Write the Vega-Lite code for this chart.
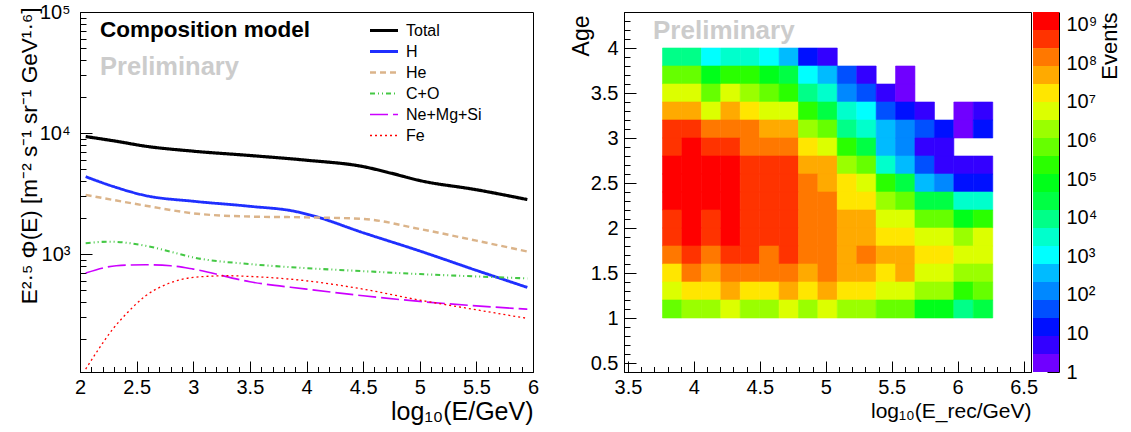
{
  "$schema": "https://vega.github.io/schema/vega-lite/v6.json",
  "padding": {"left": 17, "top": 1, "right": 0, "bottom": 0},
  "background": "white",
  "config": {
    "font": "Liberation Sans",
    "view": {"stroke": "black", "strokeWidth": 1},
    "axis": {"domainColor": "black", "tickColor": "black", "labelColor": "black", "titleColor": "black", "labelFontSize": 20, "titleFontSize": 25, "titleFontWeight": "normal", "grid": false, "labelFont": "Liberation Sans", "titleFont": "Liberation Sans", "labelOverlap": false, "labelFlush": false, "labelBound": false, "tickWidth": 1, "domainWidth": 1, "tickCount": 1000}
  },
  "datasets": {
    "lines": [
      {"s": "Total", "x": 2.05, "y": 9350}, {"s": "Total", "x": 2.32, "y": 8550}, {"s": "Total", "x": 2.58, "y": 7780}, {"s": "Total", "x": 3.0, "y": 7080}, {"s": "Total", "x": 3.5, "y": 6520}, {"s": "Total", "x": 4.0, "y": 5960}, {"s": "Total", "x": 4.5, "y": 5280}, {"s": "Total", "x": 4.75, "y": 4650}, {"s": "Total", "x": 5.0, "y": 4050}, {"s": "Total", "x": 5.5, "y": 3400}, {"s": "Total", "x": 5.95, "y": 2820},
      {"s": "H", "x": 2.05, "y": 4360}, {"s": "H", "x": 2.3, "y": 3600}, {"s": "H", "x": 2.58, "y": 3040}, {"s": "H", "x": 3.0, "y": 2730}, {"s": "H", "x": 3.5, "y": 2480}, {"s": "H", "x": 3.9, "y": 2250}, {"s": "H", "x": 4.05, "y": 2080}, {"s": "H", "x": 4.5, "y": 1500}, {"s": "H", "x": 5.0, "y": 1060}, {"s": "H", "x": 5.5, "y": 733}, {"s": "H", "x": 5.95, "y": 530},
      {"s": "He", "x": 2.05, "y": 3080}, {"s": "He", "x": 2.58, "y": 2510}, {"s": "He", "x": 3.0, "y": 2170}, {"s": "He", "x": 3.5, "y": 2040}, {"s": "He", "x": 4.0, "y": 2010}, {"s": "He", "x": 4.5, "y": 1950}, {"s": "He", "x": 5.0, "y": 1610}, {"s": "He", "x": 5.5, "y": 1290}, {"s": "He", "x": 5.95, "y": 1050},
      {"s": "C+O", "x": 2.05, "y": 1230}, {"s": "C+O", "x": 2.26, "y": 1265}, {"s": "C+O", "x": 2.58, "y": 1170}, {"s": "C+O", "x": 2.8, "y": 1045}, {"s": "C+O", "x": 3.0, "y": 938}, {"s": "C+O", "x": 3.5, "y": 826}, {"s": "C+O", "x": 4.0, "y": 765}, {"s": "C+O", "x": 4.5, "y": 722}, {"s": "C+O", "x": 5.0, "y": 683}, {"s": "C+O", "x": 5.5, "y": 653}, {"s": "C+O", "x": 5.95, "y": 629},
      {"s": "Ne+Mg+Si", "x": 2.05, "y": 697}, {"s": "Ne+Mg+Si", "x": 2.32, "y": 800}, {"s": "Ne+Mg+Si", "x": 2.58, "y": 816}, {"s": "Ne+Mg+Si", "x": 2.8, "y": 800}, {"s": "Ne+Mg+Si", "x": 3.0, "y": 751}, {"s": "Ne+Mg+Si", "x": 3.5, "y": 590}, {"s": "Ne+Mg+Si", "x": 4.0, "y": 513}, {"s": "Ne+Mg+Si", "x": 4.5, "y": 452}, {"s": "Ne+Mg+Si", "x": 5.0, "y": 406}, {"s": "Ne+Mg+Si", "x": 5.5, "y": 373}, {"s": "Ne+Mg+Si", "x": 5.95, "y": 350},
      {"s": "Fe", "x": 2.05, "y": 112}, {"s": "Fe", "x": 2.165, "y": 164}, {"s": "Fe", "x": 2.29, "y": 240}, {"s": "Fe", "x": 2.42, "y": 329}, {"s": "Fe", "x": 2.58, "y": 452}, {"s": "Fe", "x": 2.77, "y": 565}, {"s": "Fe", "x": 3.0, "y": 641}, {"s": "Fe", "x": 3.31, "y": 662}, {"s": "Fe", "x": 3.5, "y": 653}, {"s": "Fe", "x": 4.0, "y": 601}, {"s": "Fe", "x": 4.5, "y": 513}, {"s": "Fe", "x": 5.0, "y": 416}, {"s": "Fe", "x": 5.5, "y": 346}, {"s": "Fe", "x": 5.95, "y": 294}
    ],
    "cols": [
      {"c": 1, "x0": 3.762, "x1": 3.909}, {"c": 2, "x0": 3.909, "x1": 4.057}, {"c": 3, "x0": 4.057, "x1": 4.204}, {"c": 4, "x0": 4.204, "x1": 4.351}, {"c": 5, "x0": 4.351, "x1": 4.498}, {"c": 6, "x0": 4.498, "x1": 4.646}, {"c": 7, "x0": 4.646, "x1": 4.793}, {"c": 8, "x0": 4.793, "x1": 4.94}, {"c": 9, "x0": 4.94, "x1": 5.087}, {"c": 10, "x0": 5.087, "x1": 5.235}, {"c": 11, "x0": 5.235, "x1": 5.382}, {"c": 12, "x0": 5.382, "x1": 5.529}, {"c": 13, "x0": 5.529, "x1": 5.676}, {"c": 14, "x0": 5.676, "x1": 5.824}, {"c": 15, "x0": 5.824, "x1": 5.971}, {"c": 16, "x0": 5.971, "x1": 6.118}, {"c": 17, "x0": 6.118, "x1": 6.266}
    ],
    "ages": [
      {"a": 1.0, "a1": 1.2}, {"a": 1.2, "a1": 1.4}, {"a": 1.4, "a1": 1.6}, {"a": 1.6, "a1": 1.8}, {"a": 1.8, "a1": 2.0}, {"a": 2.0, "a1": 2.2}, {"a": 2.2, "a1": 2.4}, {"a": 2.4, "a1": 2.6}, {"a": 2.6, "a1": 2.8}, {"a": 2.8, "a1": 3.0}, {"a": 3.0, "a1": 3.2}, {"a": 3.2, "a1": 3.4}, {"a": 3.4, "a1": 3.6}, {"a": 3.6, "a1": 3.8}, {"a": 3.8, "a1": 4.0}
    ],
    "cells": [
      {"c": 1, "a": 3.8, "n": 9230}, {"c": 2, "a": 3.8, "n": 9230}, {"c": 3, "a": 3.8, "n": 1077}, {"c": 4, "a": 3.8, "n": 3155}, {"c": 5, "a": 3.8, "n": 3155}, {"c": 6, "a": 3.8, "n": 1077}, {"c": 7, "a": 3.8, "n": 368}, {"c": 8, "a": 3.8, "n": 15}, {"c": 9, "a": 3.8, "n": 5},
      {"c": 1, "a": 3.6, "n": 678000}, {"c": 2, "a": 3.6, "n": 678000}, {"c": 3, "a": 3.6, "n": 79100}, {"c": 4, "a": 3.6, "n": 231700}, {"c": 5, "a": 3.6, "n": 231700}, {"c": 6, "a": 3.6, "n": 79100}, {"c": 7, "a": 3.6, "n": 27000}, {"c": 8, "a": 3.6, "n": 1077}, {"c": 9, "a": 3.6, "n": 368}, {"c": 10, "a": 3.6, "n": 43}, {"c": 11, "a": 3.6, "n": 5}, {"c": 13, "a": 3.6, "n": 1.7},
      {"c": 1, "a": 3.4, "n": 5810000}, {"c": 2, "a": 3.4, "n": 5810000}, {"c": 3, "a": 3.4, "n": 678000}, {"c": 4, "a": 3.4, "n": 5810000}, {"c": 5, "a": 3.4, "n": 1990000}, {"c": 6, "a": 3.4, "n": 678000}, {"c": 7, "a": 3.4, "n": 231700}, {"c": 8, "a": 3.4, "n": 9230}, {"c": 9, "a": 3.4, "n": 3155}, {"c": 10, "a": 3.4, "n": 126}, {"c": 11, "a": 3.4, "n": 43}, {"c": 12, "a": 3.4, "n": 5}, {"c": 13, "a": 3.4, "n": 1.7},
      {"c": 1, "a": 3.2, "n": 49800000}, {"c": 2, "a": 3.2, "n": 49800000}, {"c": 3, "a": 3.2, "n": 5810000}, {"c": 4, "a": 3.2, "n": 49800000}, {"c": 5, "a": 3.2, "n": 17000000}, {"c": 6, "a": 3.2, "n": 5810000}, {"c": 7, "a": 3.2, "n": 5810000}, {"c": 8, "a": 3.2, "n": 231700}, {"c": 9, "a": 3.2, "n": 27000}, {"c": 10, "a": 3.2, "n": 3155}, {"c": 11, "a": 3.2, "n": 1077}, {"c": 12, "a": 3.2, "n": 43}, {"c": 13, "a": 3.2, "n": 15}, {"c": 14, "a": 3.2, "n": 5}, {"c": 16, "a": 3.2, "n": 1.7}, {"c": 17, "a": 3.2, "n": 5},
      {"c": 1, "a": 3.0, "n": 427000000}, {"c": 2, "a": 3.0, "n": 427000000}, {"c": 3, "a": 3.0, "n": 146000000}, {"c": 4, "a": 3.0, "n": 146000000}, {"c": 5, "a": 3.0, "n": 146000000}, {"c": 6, "a": 3.0, "n": 49800000}, {"c": 7, "a": 3.0, "n": 49800000}, {"c": 8, "a": 3.0, "n": 1990000}, {"c": 9, "a": 3.0, "n": 678000}, {"c": 10, "a": 3.0, "n": 9230}, {"c": 11, "a": 3.0, "n": 3155}, {"c": 12, "a": 3.0, "n": 368}, {"c": 13, "a": 3.0, "n": 126}, {"c": 14, "a": 3.0, "n": 43}, {"c": 15, "a": 3.0, "n": 15}, {"c": 16, "a": 3.0, "n": 1.7}, {"c": 17, "a": 3.0, "n": 15},
      {"c": 1, "a": 2.8, "n": 427000000}, {"c": 2, "a": 2.8, "n": 1250000000}, {"c": 3, "a": 2.8, "n": 427000000}, {"c": 4, "a": 2.8, "n": 427000000}, {"c": 5, "a": 2.8, "n": 146000000}, {"c": 6, "a": 2.8, "n": 146000000}, {"c": 7, "a": 2.8, "n": 146000000}, {"c": 8, "a": 2.8, "n": 17000000}, {"c": 9, "a": 2.8, "n": 5810000}, {"c": 10, "a": 2.8, "n": 231700}, {"c": 11, "a": 2.8, "n": 27000}, {"c": 12, "a": 2.8, "n": 368}, {"c": 13, "a": 2.8, "n": 126}, {"c": 14, "a": 2.8, "n": 5}, {"c": 15, "a": 2.8, "n": 5},
      {"c": 1, "a": 2.6, "n": 1250000000}, {"c": 2, "a": 2.6, "n": 1250000000}, {"c": 3, "a": 2.6, "n": 1250000000}, {"c": 4, "a": 2.6, "n": 1250000000}, {"c": 5, "a": 2.6, "n": 427000000}, {"c": 6, "a": 2.6, "n": 427000000}, {"c": 7, "a": 2.6, "n": 427000000}, {"c": 8, "a": 2.6, "n": 49800000}, {"c": 9, "a": 2.6, "n": 49800000}, {"c": 10, "a": 2.6, "n": 1990000}, {"c": 11, "a": 2.6, "n": 678000}, {"c": 12, "a": 2.6, "n": 3155}, {"c": 13, "a": 2.6, "n": 368}, {"c": 14, "a": 2.6, "n": 43}, {"c": 15, "a": 2.6, "n": 5}, {"c": 16, "a": 2.6, "n": 5}, {"c": 17, "a": 2.6, "n": 5},
      {"c": 1, "a": 2.4, "n": 1250000000}, {"c": 2, "a": 2.4, "n": 1250000000}, {"c": 3, "a": 2.4, "n": 1250000000}, {"c": 4, "a": 2.4, "n": 1250000000}, {"c": 5, "a": 2.4, "n": 427000000}, {"c": 6, "a": 2.4, "n": 427000000}, {"c": 7, "a": 2.4, "n": 427000000}, {"c": 8, "a": 2.4, "n": 146000000}, {"c": 9, "a": 2.4, "n": 49800000}, {"c": 10, "a": 2.4, "n": 17000000}, {"c": 11, "a": 2.4, "n": 5810000}, {"c": 12, "a": 2.4, "n": 231700}, {"c": 13, "a": 2.4, "n": 27000}, {"c": 14, "a": 2.4, "n": 368}, {"c": 15, "a": 2.4, "n": 126}, {"c": 16, "a": 2.4, "n": 15}, {"c": 17, "a": 2.4, "n": 15},
      {"c": 1, "a": 2.2, "n": 1250000000}, {"c": 2, "a": 2.2, "n": 1250000000}, {"c": 3, "a": 2.2, "n": 1250000000}, {"c": 4, "a": 2.2, "n": 1250000000}, {"c": 5, "a": 2.2, "n": 427000000}, {"c": 6, "a": 2.2, "n": 427000000}, {"c": 7, "a": 2.2, "n": 427000000}, {"c": 8, "a": 2.2, "n": 146000000}, {"c": 9, "a": 2.2, "n": 146000000}, {"c": 10, "a": 2.2, "n": 17000000}, {"c": 11, "a": 2.2, "n": 17000000}, {"c": 12, "a": 2.2, "n": 1990000}, {"c": 13, "a": 2.2, "n": 678000}, {"c": 14, "a": 2.2, "n": 27000}, {"c": 15, "a": 2.2, "n": 27000}, {"c": 16, "a": 2.2, "n": 3155}, {"c": 17, "a": 2.2, "n": 3155},
      {"c": 1, "a": 2.0, "n": 427000000}, {"c": 2, "a": 2.0, "n": 1250000000}, {"c": 3, "a": 2.0, "n": 427000000}, {"c": 4, "a": 2.0, "n": 1250000000}, {"c": 5, "a": 2.0, "n": 427000000}, {"c": 6, "a": 2.0, "n": 427000000}, {"c": 7, "a": 2.0, "n": 427000000}, {"c": 8, "a": 2.0, "n": 146000000}, {"c": 9, "a": 2.0, "n": 146000000}, {"c": 10, "a": 2.0, "n": 49800000}, {"c": 11, "a": 2.0, "n": 49800000}, {"c": 12, "a": 2.0, "n": 5810000}, {"c": 13, "a": 2.0, "n": 5810000}, {"c": 14, "a": 2.0, "n": 678000}, {"c": 15, "a": 2.0, "n": 678000}, {"c": 16, "a": 2.0, "n": 79100}, {"c": 17, "a": 2.0, "n": 231700},
      {"c": 1, "a": 1.8, "n": 427000000}, {"c": 2, "a": 1.8, "n": 1250000000}, {"c": 3, "a": 1.8, "n": 427000000}, {"c": 4, "a": 1.8, "n": 1250000000}, {"c": 5, "a": 1.8, "n": 427000000}, {"c": 6, "a": 1.8, "n": 427000000}, {"c": 7, "a": 1.8, "n": 427000000}, {"c": 8, "a": 1.8, "n": 146000000}, {"c": 9, "a": 1.8, "n": 146000000}, {"c": 10, "a": 1.8, "n": 49800000}, {"c": 11, "a": 1.8, "n": 49800000}, {"c": 12, "a": 1.8, "n": 17000000}, {"c": 13, "a": 1.8, "n": 17000000}, {"c": 14, "a": 1.8, "n": 5810000}, {"c": 15, "a": 1.8, "n": 5810000}, {"c": 16, "a": 1.8, "n": 1990000}, {"c": 17, "a": 1.8, "n": 5810000},
      {"c": 1, "a": 1.6, "n": 146000000}, {"c": 2, "a": 1.6, "n": 427000000}, {"c": 3, "a": 1.6, "n": 146000000}, {"c": 4, "a": 1.6, "n": 427000000}, {"c": 5, "a": 1.6, "n": 427000000}, {"c": 6, "a": 1.6, "n": 146000000}, {"c": 7, "a": 1.6, "n": 427000000}, {"c": 8, "a": 1.6, "n": 146000000}, {"c": 9, "a": 1.6, "n": 146000000}, {"c": 10, "a": 1.6, "n": 49800000}, {"c": 11, "a": 1.6, "n": 146000000}, {"c": 12, "a": 1.6, "n": 49800000}, {"c": 13, "a": 1.6, "n": 49800000}, {"c": 14, "a": 1.6, "n": 17000000}, {"c": 15, "a": 1.6, "n": 17000000}, {"c": 16, "a": 1.6, "n": 5810000}, {"c": 17, "a": 1.6, "n": 5810000},
      {"c": 1, "a": 1.4, "n": 17000000}, {"c": 2, "a": 1.4, "n": 146000000}, {"c": 3, "a": 1.4, "n": 49800000}, {"c": 4, "a": 1.4, "n": 146000000}, {"c": 5, "a": 1.4, "n": 146000000}, {"c": 6, "a": 1.4, "n": 146000000}, {"c": 7, "a": 1.4, "n": 146000000}, {"c": 8, "a": 1.4, "n": 49800000}, {"c": 9, "a": 1.4, "n": 146000000}, {"c": 10, "a": 1.4, "n": 49800000}, {"c": 11, "a": 1.4, "n": 49800000}, {"c": 12, "a": 1.4, "n": 17000000}, {"c": 13, "a": 1.4, "n": 49800000}, {"c": 14, "a": 1.4, "n": 5810000}, {"c": 15, "a": 1.4, "n": 5810000}, {"c": 16, "a": 1.4, "n": 1990000}, {"c": 17, "a": 1.4, "n": 1990000},
      {"c": 1, "a": 1.2, "n": 5810000}, {"c": 2, "a": 1.2, "n": 17000000}, {"c": 3, "a": 1.2, "n": 17000000}, {"c": 4, "a": 1.2, "n": 49800000}, {"c": 5, "a": 1.2, "n": 17000000}, {"c": 6, "a": 1.2, "n": 17000000}, {"c": 7, "a": 1.2, "n": 49800000}, {"c": 8, "a": 1.2, "n": 17000000}, {"c": 9, "a": 1.2, "n": 49800000}, {"c": 10, "a": 1.2, "n": 17000000}, {"c": 11, "a": 1.2, "n": 17000000}, {"c": 12, "a": 1.2, "n": 5810000}, {"c": 13, "a": 1.2, "n": 5810000}, {"c": 14, "a": 1.2, "n": 1990000}, {"c": 15, "a": 1.2, "n": 1990000}, {"c": 16, "a": 1.2, "n": 231700}, {"c": 17, "a": 1.2, "n": 678000},
      {"c": 1, "a": 1.0, "n": 678000}, {"c": 2, "a": 1.0, "n": 1990000}, {"c": 3, "a": 1.0, "n": 1990000}, {"c": 4, "a": 1.0, "n": 5810000}, {"c": 5, "a": 1.0, "n": 1990000}, {"c": 6, "a": 1.0, "n": 1990000}, {"c": 7, "a": 1.0, "n": 5810000}, {"c": 8, "a": 1.0, "n": 1990000}, {"c": 9, "a": 1.0, "n": 5810000}, {"c": 10, "a": 1.0, "n": 1990000}, {"c": 11, "a": 1.0, "n": 1990000}, {"c": 12, "a": 1.0, "n": 678000}, {"c": 13, "a": 1.0, "n": 678000}, {"c": 14, "a": 1.0, "n": 79100}, {"c": 15, "a": 1.0, "n": 79100}, {"c": 16, "a": 1.0, "n": 9230}, {"c": 17, "a": 1.0, "n": 27000}
    ],
    "bands": [
      {"lo": 1, "hi": 2.93, "n": 1.7}, {"lo": 2.93, "hi": 8.57, "n": 5}, {"lo": 8.57, "hi": 25.1, "n": 15}, {"lo": 25.1, "hi": 73.5, "n": 43}, {"lo": 73.5, "hi": 215, "n": 126}, {"lo": 215, "hi": 630, "n": 368}, {"lo": 630, "hi": 1843, "n": 1077}, {"lo": 1843, "hi": 5395, "n": 3155}, {"lo": 5395, "hi": 15795, "n": 9230}, {"lo": 15795, "hi": 46238, "n": 27000}, {"lo": 46238, "hi": 135300, "n": 79100}, {"lo": 135300, "hi": 396300, "n": 231700}, {"lo": 396300, "hi": 1160000, "n": 678000}, {"lo": 1160000, "hi": 3400000, "n": 1990000}, {"lo": 3400000, "hi": 9940000, "n": 5810000}, {"lo": 9940000, "hi": 29100000, "n": 17000000}, {"lo": 29100000, "hi": 85200000, "n": 49800000}, {"lo": 85200000, "hi": 249000000, "n": 146000000}, {"lo": 249000000, "hi": 730000000, "n": 427000000}, {"lo": 730000000, "hi": 2140000000, "n": 1250000000}
    ]
  },
  "bounds": "flush",
  "spacing": 91,
  "resolve": {
    "scale": {"color": "independent", "strokeDash": "independent", "strokeWidth": "independent", "stroke": "independent"},
    "legend": {"color": "independent", "strokeDash": "independent", "strokeWidth": "independent", "stroke": "independent"}
  },
  "hconcat": [
    {
      "width": 453,
      "height": 360,
      "layer": [
        {
          "data": {"name": "lines"},
          "mark": {"type": "line", "interpolate": "monotone", "clip": true},
          "encoding": {
            "x": {"field": "x", "type": "quantitative", "scale": {"domain": [2, 6], "nice": false, "zero": false},
              "axis": {"values": [2, 2.1, 2.2, 2.3, 2.4, 2.5, 2.6, 2.7, 2.8, 2.9, 3, 3.1, 3.2, 3.3, 3.4, 3.5, 3.6, 3.7, 3.8, 3.9, 4, 4.1, 4.2, 4.3, 4.4, 4.5, 4.6, 4.7, 4.8, 4.9, 5, 5.1, 5.2, 5.3, 5.4, 5.5, 5.6, 5.7, 5.8, 5.9, 6],
                "labelExpr": "abs(datum.value*2-round(datum.value*2))<0.001 ? format(datum.value,'~g') : ''",
                "tickSize": {"condition": {"test": "abs(datum.value*2-round(datum.value*2))<0.001", "value": -11}, "value": -5.5},
                "labelPadding": 16, "title": "log₁₀(E/GeV)", "titleAnchor": "end", "titlePadding": -3}},
            "y": {"field": "y", "type": "quantitative", "scale": {"type": "log", "domain": [106, 100000], "nice": false},
              "axis": {"values": [200, 300, 400, 500, 600, 700, 800, 900, 1000, 2000, 3000, 4000, 5000, 6000, 7000, 8000, 9000, 10000, 20000, 30000, 40000, 50000, 60000, 70000, 80000, 90000, 100000],
                "labelExpr": "datum.value==1000 ? '10³' : datum.value==10000 ? '10⁴' : datum.value==100000 ? '10⁵' : ''",
                "tickSize": {"condition": {"test": "datum.value==1000||datum.value==10000||datum.value==100000", "value": -12}, "value": -6},
                "labelPadding": 22, "title": "E²·⁵ Φ(E) [m⁻² s⁻¹ sr⁻¹ GeV¹·⁶]", "titleAnchor": "end", "titleAlign": "right", "titleX": -51, "titleY": -5, "titleBaseline": "middle", "titleFontSize": 22.6}},
            "color": {"field": "s", "type": "nominal", "scale": {"domain": ["Total", "H", "He", "C+O", "Ne+Mg+Si", "Fe"], "range": ["#000000", "#1f2fff", "#dbb48a", "#44c844", "#cc00ff", "#ff0000"]},
              "legend": {"orient": "none", "legendX": 288, "legendY": 8, "title": null, "labelFontSize": 16, "symbolSize": 784, "symbolType": "stroke", "rowPadding": 0, "clipHeight": 21, "labelOffset": 6, "padding": 0, "labelColor": "black", "symbolStrokeWidth": {"expr": "datum.value == 'Total' ? 3.2 : 1.4"}}},
            "strokeDash": {"field": "s", "type": "nominal", "scale": {"domain": ["Total", "H", "He", "C+O", "Ne+Mg+Si", "Fe"], "range": [[1, 0], [1, 0], [6, 4], [5, 3, 1, 3, 1, 3], [18, 5], [2, 3]]},
              "legend": {"orient": "none", "legendX": 288, "legendY": 8, "title": null, "labelFontSize": 16, "symbolSize": 784, "symbolType": "stroke", "rowPadding": 0, "clipHeight": 21, "labelOffset": 6, "padding": 0, "labelColor": "black", "symbolStrokeWidth": {"expr": "datum.value == 'Total' ? 3.2 : 1.4"}}},
            "strokeWidth": {"field": "s", "type": "nominal", "legend": null, "scale": {"domain": ["Total", "H", "He", "C+O", "Ne+Mg+Si", "Fe"], "range": [3.2, 1.3, 1.3, 1.3, 1.5, 1.5]}}
          }
        },
        {
          "data": {"values": [{}]},
          "mark": {"type": "text", "align": "left", "baseline": "middle", "fontWeight": "bold", "fontSize": 22.5, "color": "black"},
          "encoding": {"x": {"datum": 2.177}, "y": {"datum": 71000}, "text": {"value": "Composition model"}}
        },
        {
          "data": {"values": [{}]},
          "mark": {"type": "text", "align": "left", "baseline": "middle", "fontWeight": "bold", "fontSize": 25.5, "color": "#cccccc"},
          "encoding": {"x": {"datum": 2.177}, "y": {"datum": 35100}, "text": {"value": "Preliminary"}}
        }
      ]
    },
    {
      "bounds": "flush",
      "spacing": 2,
      "resolve": {
        "scale": {"color": "independent", "stroke": "independent"},
        "legend": {"color": "independent", "stroke": "independent"}
      },
      "hconcat": [
        {
          "width": 407,
          "height": 360,
          "layer": [
            {
              "data": {"name": "cells"},
              "transform": [
                {"lookup": "c", "from": {"data": {"name": "cols"}, "key": "c", "fields": ["x0", "x1"]}},
                {"lookup": "a", "from": {"data": {"name": "ages"}, "key": "a", "fields": ["a1"]}}
              ],
              "mark": {"type": "rect", "strokeWidth": 0.6},
              "encoding": {
                "x": {"field": "x0", "type": "quantitative", "scale": {"domain": [3.47, 6.556], "nice": false, "zero": false},
                  "axis": {"values": [3.5, 3.6, 3.7, 3.8, 3.9, 4, 4.1, 4.2, 4.3, 4.4, 4.5, 4.6, 4.7, 4.8, 4.9, 5, 5.1, 5.2, 5.3, 5.4, 5.5, 5.6, 5.7, 5.8, 5.9, 6, 6.1, 6.2, 6.3, 6.4, 6.5],
                    "labelExpr": "abs(datum.value*2-round(datum.value*2))<0.001 ? format(datum.value,'~g') : ''",
                    "tickSize": {"condition": {"test": "abs(datum.value*2-round(datum.value*2))<0.001", "value": -11}, "value": -5.5},
                    "labelPadding": 16, "title": "log₁₀(E_rec/GeV)", "titleAnchor": "end", "titlePadding": -2, "titleFontSize": 21}},
                "x2": {"field": "x1"},
                "y": {"field": "a", "type": "quantitative", "scale": {"domain": [0.4, 4.4], "nice": false, "zero": false},
                  "axis": {"values": [0.5, 0.6, 0.7, 0.8, 0.9, 1, 1.1, 1.2, 1.3, 1.4, 1.5, 1.6, 1.7, 1.8, 1.9, 2, 2.1, 2.2, 2.3, 2.4, 2.5, 2.6, 2.7, 2.8, 2.9, 3, 3.1, 3.2, 3.3, 3.4, 3.5, 3.6, 3.7, 3.8, 3.9, 4, 4.1, 4.2, 4.3, 4.4],
                    "labelExpr": "abs(datum.value*2-round(datum.value*2))<0.001 ? format(datum.value,'~g') : ''",
                    "tickSize": {"condition": {"test": "abs(datum.value*2-round(datum.value*2))<0.001", "value": -12}, "value": -6},
                    "labelPadding": 18, "title": "Age", "titleAnchor": "end", "titleAlign": "right", "titleX": -43, "titleY": 3, "titleBaseline": "middle", "titleFontSize": 23}},
                "y2": {"field": "a1"},
                "color": {"field": "n", "type": "quantitative", "legend": null,
                  "scale": {"type": "threshold", "domain": [2.93, 8.57, 25.1, 73.5, 215, 630, 1843, 5395, 15795, 46238, 135300, 396300, 1160000, 3400000, 9940000, 29100000, 85200000, 249000000, 730000000],
                    "range": ["#7000ff", "#3300ff", "#0010ff", "#0050ff", "#0088ff", "#00bbff", "#00ffff", "#00ffcc", "#00ff88", "#00ff44", "#00ff1a", "#2aff00", "#66ff00", "#9aff00", "#dcff00", "#ffe600", "#ffaa00", "#ff7800", "#ff3300", "#ff0000"]}},
                "stroke": {"field": "n", "type": "quantitative", "legend": null,
                  "scale": {"type": "threshold", "domain": [2.93, 8.57, 25.1, 73.5, 215, 630, 1843, 5395, 15795, 46238, 135300, 396300, 1160000, 3400000, 9940000, 29100000, 85200000, 249000000, 730000000],
                    "range": ["#7000ff", "#3300ff", "#0010ff", "#0050ff", "#0088ff", "#00bbff", "#00ffff", "#00ffcc", "#00ff88", "#00ff44", "#00ff1a", "#2aff00", "#66ff00", "#9aff00", "#dcff00", "#ffe600", "#ffaa00", "#ff7800", "#ff3300", "#ff0000"]}}
              }
            },
            {
              "data": {"values": [{}]},
              "mark": {"type": "text", "align": "left", "baseline": "middle", "fontWeight": "bold", "fontSize": 26, "color": "#cccccc"},
              "encoding": {"x": {"datum": 3.69}, "y": {"datum": 4.19}, "text": {"value": "Preliminary"}}
            }
          ]
        },
        {
          "width": 26,
          "height": 360,
          "view": {"stroke": null},
          "data": {"name": "bands"},
          "mark": {"type": "rect"},
          "encoding": {
            "y": {"field": "lo", "type": "quantitative", "scale": {"type": "log", "domain": [1, 2140000000], "nice": false},
              "axis": {"orient": "right",
                "values": [1, 2, 3, 4, 5, 6, 7, 8, 9, 10, 20, 30, 40, 50, 60, 70, 80, 90, 100, 200, 300, 400, 500, 600, 700, 800, 900, 1000, 2000, 3000, 4000, 5000, 6000, 7000, 8000, 9000, 10000, 20000, 30000, 40000, 50000, 60000, 70000, 80000, 90000, 100000, 200000, 300000, 400000, 500000, 600000, 700000, 800000, 900000, 1000000, 2000000, 3000000, 4000000, 5000000, 6000000, 7000000, 8000000, 9000000, 10000000, 20000000, 30000000, 40000000, 50000000, 60000000, 70000000, 80000000, 90000000, 100000000, 200000000, 300000000, 400000000, 500000000, 600000000, 700000000, 800000000, 900000000, 1000000000, 2000000000],
                "labelExpr": "abs(log(datum.value)/LN10 - round(log(datum.value)/LN10)) < 0.001 ? (datum.value < 1.5 ? '1' : datum.value < 15 ? '10' : '10' + ['⁰','¹','²','³','⁴','⁵','⁶','⁷','⁸','⁹'][round(log(datum.value)/LN10)]) : ''",
                "tickSize": {"condition": {"test": "abs(log(datum.value)/LN10 - round(log(datum.value)/LN10)) < 0.001", "value": -12}, "value": -6},
                "labelPadding": 19, "labelAlign": "left", "title": "Events", "titleAnchor": "end", "titleAngle": 270, "titleAlign": "right", "titleX": 50, "titleY": 0, "titleBaseline": "middle", "titleFontSize": 22}},
            "y2": {"field": "hi"},
            "color": {"field": "n", "type": "quantitative", "legend": null,
              "scale": {"type": "threshold", "domain": [2.93, 8.57, 25.1, 73.5, 215, 630, 1843, 5395, 15795, 46238, 135300, 396300, 1160000, 3400000, 9940000, 29100000, 85200000, 249000000, 730000000],
                "range": ["#7000ff", "#3300ff", "#0010ff", "#0050ff", "#0088ff", "#00bbff", "#00ffff", "#00ffcc", "#00ff88", "#00ff44", "#00ff1a", "#2aff00", "#66ff00", "#9aff00", "#dcff00", "#ffe600", "#ffaa00", "#ff7800", "#ff3300", "#ff0000"]}}
          }
        }
      ]
    }
  ]
}
